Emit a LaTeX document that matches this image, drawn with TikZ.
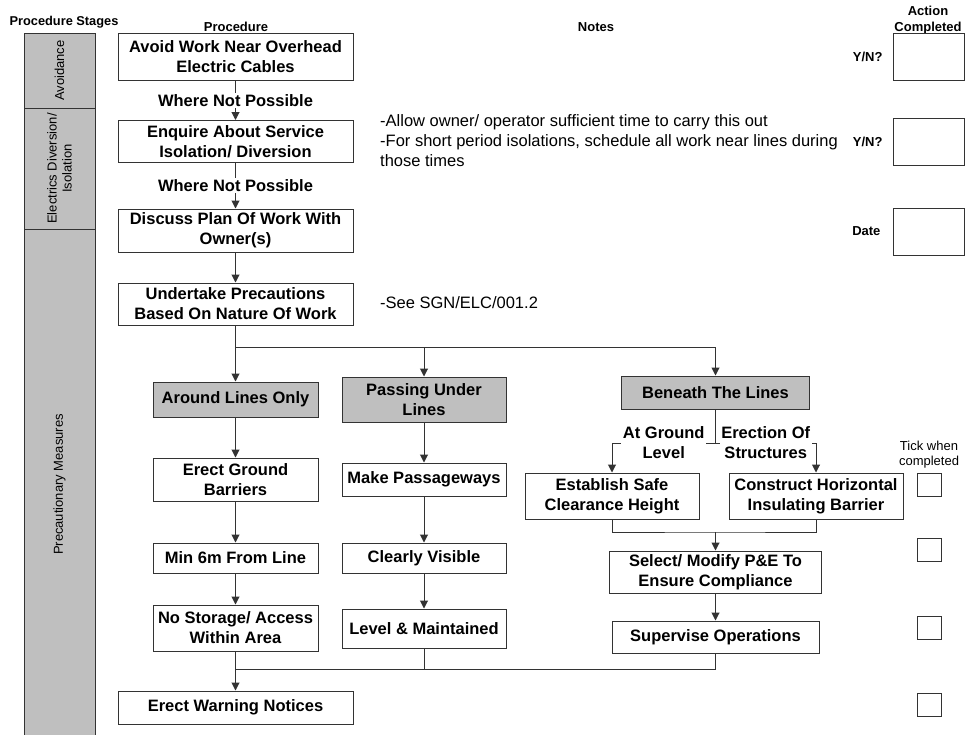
\documentclass[tikz,border=0pt]{standalone}
\usepackage{fontspec}
\setmainfont{Liberation Sans}
\usetikzlibrary{arrows.meta,calc}
\def\bigf{\fontsize{16.5}{20}\selectfont}
\def\smallf{\fontsize{13}{15}\selectfont}
\begin{document}
\begin{tikzpicture}[x=1pt,y=-1pt,
	box/.style={draw=black!80,fill=white,line width=1pt,inner sep=0pt,align=center,font=\bfseries\bigf},
	grey/.style={box,fill=black!25},
	stage/.style={draw=black!80,fill=black!25,line width=1pt,inner sep=0pt,minimum height=71,rotate=90,align=center,font=\smallf},
	tick/.style={draw=black!80,fill=white,line width=1pt,inner sep=0pt},
	lbl/.style={fill=white,inner sep=1.5pt,align=center,font=\bfseries\bigf},
	conn/.style={draw=black!80,line width=1pt},
	arr/.style={conn,-{Triangle[length=8pt,width=8pt]}}]
	\useasboundingbox (0,0) rectangle (966,734);
	% headers
	\node[font=\bfseries\fontsize{12.8}{15}\selectfont] (hstages) at (64,22) {Procedure Stages};
	\node[font=\bfseries\smallf] (hproc) at (236,27) {Procedure};
	\node[font=\bfseries\smallf] (hnotes) at (596,27) {Notes};
	\node[font=\bfseries\fontsize{13}{16}\selectfont,align=center] (hact) at (928,20) {Action\\Completed};
	% stage bars
	\node[stage,minimum width=75] (sAvoid) at (59.5,70.5) {Avoidance};
	\node[stage,minimum width=121] (sIso) at (59.5,168.5) {Electrics Diversion/\\Isolation};
	\node[stage,minimum width=511] (sPrec) at (59.5,484.5) {Precautionary Measures};
	% main column
	\node[box,minimum width=235,minimum height=47] (bAvoid) at (235.5,56.5) {Avoid Work Near Overhead\\Electric Cables};
	\node[box,minimum width=235,minimum height=42] (bEnquire) at (235.5,141.5) {Enquire About Service\\Isolation/ Diversion};
	\node[box,minimum width=235,minimum height=43] (bDiscuss) at (235.5,230.5) {Discuss Plan Of Work With\\Owner(s)};
	\node[box,minimum width=235,minimum height=42] (bUndertake) at (235.5,304) {Undertake Precautions\\Based On Nature Of Work};
	\node[box,minimum width=235,minimum height=33] (bWarn) at (235.5,707.5) {Erect Warning Notices};
	% around lines
	\node[grey,minimum width=165,minimum height=35] (gAround) at (235.5,399.5) {Around Lines Only};
	\node[box,minimum width=165,minimum height=43] (bBarriers) at (235.5,479.5) {Erect Ground\\Barriers};
	\node[box,minimum width=165,minimum height=30] (bMin) at (235.5,558) {Min 6m From Line};
	\node[box,minimum width=165,minimum height=46] (bStorage) at (235.5,628) {No Storage/ Access\\Within Area};
	% passing under
	\node[grey,minimum width=164,minimum height=45] (gPassing) at (424,399.5) {Passing Under\\Lines};
	\node[box,minimum width=164,minimum height=33] (bPassage) at (424,479.5) {Make Passageways};
	\node[box,minimum width=164,minimum height=30] (bVisible) at (424,558) {Clearly Visible};
	\node[box,minimum width=164,minimum height=39] (bLevel) at (424,628.5) {Level \& Maintained};
	% beneath
	\node[grey,minimum width=188,minimum height=33] (gBeneath) at (715.5,392.5) {Beneath The Lines};
	\node[box,minimum width=174,minimum height=46] (bEstablish) at (612,496) {Establish Safe\\Clearance Height};
	\node[box,minimum width=174,minimum height=46] (bConstruct) at (816,496) {Construct Horizontal\\Insulating Barrier};
	\node[box,minimum width=212,minimum height=42] (bSelect) at (715.5,572) {Select/ Modify P\&E To\\Ensure Compliance};
	\node[box,minimum width=207,minimum height=32] (bSupervise) at (715.5,637) {Supervise Operations};
	% notes
	\node[anchor=west,inner sep=0pt,align=left,font=\bigf] (nIso) at (380,141) {-Allow owner/ operator sufficient time to carry this out\\-For short period isolations, schedule all work near lines during\\those times};
	\node[anchor=west,inner sep=0pt,font=\bigf] (nSee) at (380,303) {-See SGN/ELC/001.2};
	% action completed
	\node[tick,minimum width=71,minimum height=47] (aAvoid) at (928.5,56.5) {};
	\node[tick,minimum width=71,minimum height=47] (aIso) at (928.5,141.5) {};
	\node[tick,minimum width=71,minimum height=47] (aDate) at (928.5,231.5) {};
	\node[anchor=east,font=\bfseries\smallf] (yn1) at (886,56.5) {Y/N?};
	\node[anchor=east,font=\bfseries\smallf] (yn2) at (886,141.5) {Y/N?};
	\node[anchor=east,font=\bfseries\smallf] (date) at (884,231.5) {Date};
	\node[align=center,font=\smallf] (tickhead) at (929,455) {Tick when\\completed};
	\node[tick,minimum width=24,minimum height=23] (t1) at (929,484.5) {};
	\node[tick,minimum width=24,minimum height=23] (t2) at (929,550) {};
	\node[tick,minimum width=24,minimum height=23] (t3) at (929,627.5) {};
	\node[tick,minimum width=24,minimum height=23] (t4) at (929,705) {};
	% connectors
	\coordinate (split) at (235.5,347);
	\coordinate (splitR) at (715.5,347);
	\coordinate (fork) at (715.5,443);
	\coordinate (join) at (715.5,532);
	\coordinate (merge) at (235.5,669);
	\draw[arr] (bAvoid) -- node[lbl]{Where Not Possible} (bEnquire);
	\draw[arr] (bEnquire) -- node[lbl]{Where Not Possible} (bDiscuss);
	\draw[arr] (bDiscuss) -- (bUndertake);
	\draw[conn] (bUndertake) -- (split) -- (splitR);
	\draw[arr] (split) -- (gAround);
	\draw[arr] (split-|gPassing) -- (gPassing);
	\draw[arr] (splitR) -- (gBeneath);
	\draw[arr] (gAround) -- (bBarriers);
	\draw[arr] (bBarriers) -- (bMin);
	\draw[arr] (bMin) -- (bStorage);
	\draw[arr] (gPassing) -- (bPassage);
	\draw[arr] (bPassage) -- (bVisible);
	\draw[arr] (bVisible) -- (bLevel);
	\draw[conn] (gBeneath) -- (fork);
	\draw[arr] (fork) -| node[lbl,pos=0.25]{At Ground\\Level} (bEstablish);
	\draw[arr] (fork) -| node[lbl,pos=0.25]{Erection Of\\Structures} (bConstruct);
	\draw[conn] (bEstablish) |- (join) -| (bConstruct);
	\draw[arr] (join) -- (bSelect);
	\draw[arr] (bSelect) -- (bSupervise);
	\draw[conn] (bStorage) -- (merge);
	\draw[conn] (bLevel) |- (merge);
	\draw[conn] (bSupervise) |- (merge);
	\draw[arr] (merge) -- (bWarn);
\end{tikzpicture}
\end{document}
